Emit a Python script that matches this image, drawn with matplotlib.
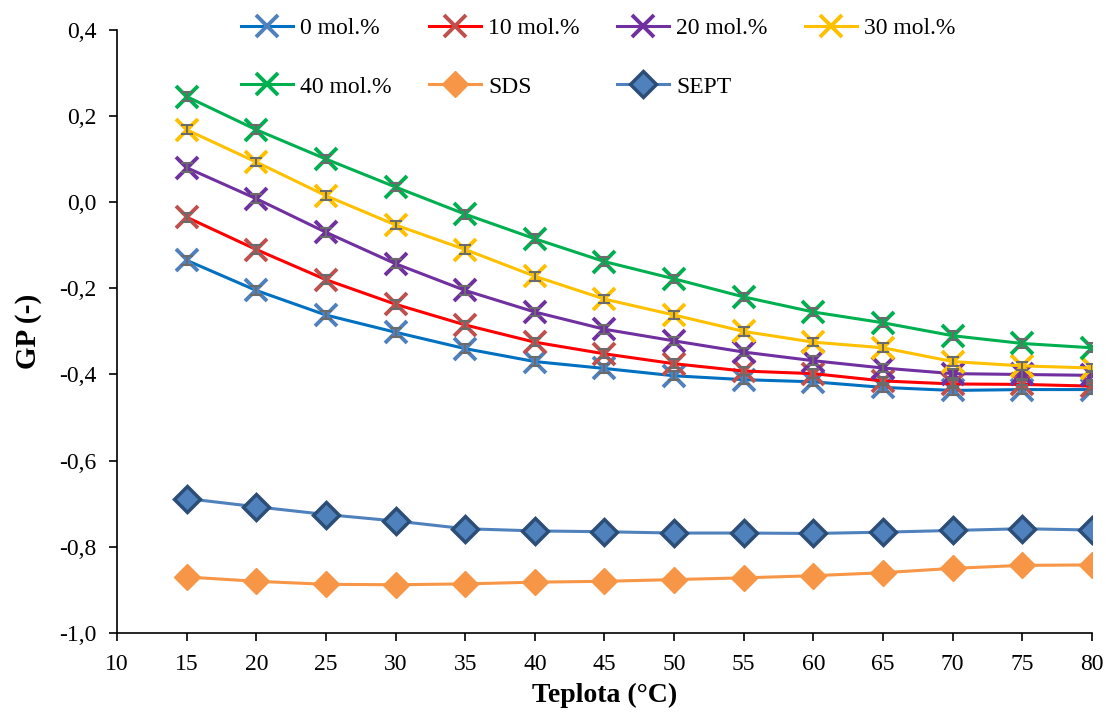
import matplotlib.pyplot as plt
import numpy as np
from matplotlib.ticker import FuncFormatter

plt.rcParams["font.family"] = ["Liberation Serif", "DejaVu Serif"]

temp = [15, 20, 25, 30, 35, 40, 45, 50, 55, 60, 65, 70, 75, 80]
gp_0 = [-0.135, -0.205, -0.262, -0.302, -0.340, -0.370, -0.386, -0.403,
        -0.412, -0.417, -0.430, -0.437, -0.435, -0.435]
gp_10 = [-0.035, -0.110, -0.180, -0.237, -0.285, -0.325, -0.352, -0.375,
         -0.392, -0.398, -0.415, -0.422, -0.423, -0.427]
gp_20 = [0.080, 0.008, -0.070, -0.143, -0.205, -0.255, -0.295, -0.322,
         -0.348, -0.368, -0.385, -0.398, -0.400, -0.402]
gp_30 = [0.168, 0.093, 0.015, -0.053, -0.110, -0.172, -0.225, -0.262,
         -0.300, -0.325, -0.338, -0.370, -0.380, -0.385]
gp_40 = [0.245, 0.168, 0.100, 0.035, -0.028, -0.085, -0.138, -0.178,
         -0.220, -0.255, -0.280, -0.310, -0.328, -0.338]
gp_sds = [-0.870, -0.880, -0.887, -0.888, -0.886, -0.882, -0.880, -0.876,
          -0.872, -0.867, -0.860, -0.850, -0.843, -0.842]
gp_sept = [-0.688, -0.707, -0.725, -0.740, -0.758, -0.763, -0.765, -0.768,
           -0.768, -0.769, -0.766, -0.762, -0.758, -0.761]
err = 0.01

fig = plt.figure(figsize=(11.06, 7.13), dpi=100)
ax = fig.add_axes([0.1058, 0.1122, 0.8815, 0.846])

handles = {}
mol_series = [
    ("0 mol.%", gp_0, "#0070C0", "#4F81BD"),
    ("10 mol.%", gp_10, "#FF0000", "#C0504D"),
    ("20 mol.%", gp_20, "#7030A0", "#7030A0"),
    ("30 mol.%", gp_30, "#FFC000", "#FFC000"),
    ("40 mol.%", gp_40, "#00B050", "#00B050"),
]
for name, ys, lc, mc in mol_series:
    h, = ax.plot(temp, ys, color=lc, lw=2.2, marker="x", ms=16, mew=2.8,
                 mec=mc, label=name, zorder=3)
    ax.errorbar(temp, ys, yerr=err, fmt="none", ecolor="#6b6b6b", elinewidth=1.5,
                capsize=4, capthick=1.5, zorder=4)
    handles[name] = h

h, = ax.plot(temp, gp_sds, color="#F79646", lw=2.2, marker="D", ms=13,
             mfc="#F79646", mec="#F79646", label="SDS", zorder=3)
handles["SDS"] = h
h, = ax.plot(temp, gp_sept, color="#4F81BD", lw=2.2, marker="D", ms=13,
             mfc="#4F81BD", mec="#2C4D75", mew=2.5, label="SEPT", zorder=3)
handles["SEPT"] = h

order = ["0 mol.%", "40 mol.%", "10 mol.%", "SDS", "20 mol.%", "SEPT", "30 mol.%"]
ax.legend([handles[k] for k in order], order, ncol=4, frameon=False,
          fontsize=17, loc="upper left", bbox_to_anchor=(0.105, 1.055),
          handlelength=2.2, handletextpad=0.3, columnspacing=1.6,
          labelspacing=1.55)

ax.set_xlim(10, 80)
ax.set_ylim(-1.0, 0.4)
ax.set_xticks(np.arange(10, 81, 5))
ax.set_yticks(np.arange(-1.0, 0.41, 0.2))
ax.yaxis.set_major_formatter(FuncFormatter(lambda v, p: f"{v:.1f}".replace(".", ",").replace("-0,0", "0,0")))
ax.tick_params(labelsize=17, direction="out", length=6, width=1.2)
ax.tick_params(axis="x", pad=9)
ax.tick_params(axis="y", pad=9)
for s in ["top", "right"]:
    ax.spines[s].set_visible(False)
for s in ["left", "bottom"]:
    ax.spines[s].set_linewidth(1.2)

ax.set_xlabel("Teplota (°C)", fontsize=20, fontweight="bold", labelpad=6)
ax.set_ylabel("GP (-)", fontsize=21, fontweight="bold", labelpad=12)

fig.savefig("out.png", dpi=100)
